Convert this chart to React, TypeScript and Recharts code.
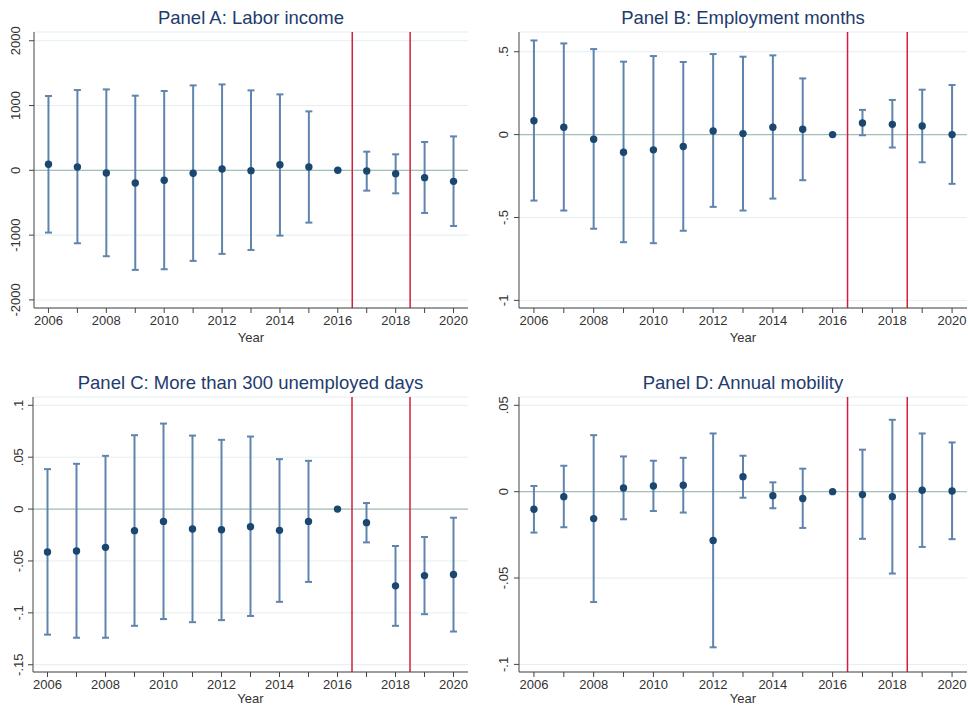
import React from "react";
import {
  ScatterChart,
  Scatter,
  XAxis,
  YAxis,
  CartesianGrid,
  ReferenceLine,
  ErrorBar,
  Label,
} from "recharts";

const years = [2006, 2007, 2008, 2009, 2010, 2011, 2012, 2013, 2014, 2015, 2016, 2017, 2018, 2019, 2020];

// Panel A: labor income
const incomeEst = [93, 51, -41, -195, -154, -46, 21, -5, 87, 51, 0, -10, -51, -113, -170];
const incomeLo = [-961, -1126, -1326, -1537, -1527, -1398, -1290, -1229, -1008, -807, 0, -314, -355, -658, -859];
const incomeHi = [1147, 1239, 1249, 1152, 1224, 1311, 1326, 1234, 1172, 910, 0, 288, 247, 437, 524];
const incomeTicks = [-2000, -1000, 0, 1000, 2000];

// Panel B: employment months
const monthsEst = [0.084, 0.044, -0.028, -0.106, -0.092, -0.072, 0.022, 0.006, 0.044, 0.032, 0, 0.07, 0.062, 0.052, 0];
const monthsLo = [-0.398, -0.458, -0.568, -0.649, -0.655, -0.58, -0.436, -0.458, -0.386, -0.275, 0, -0.004, -0.078, -0.167, -0.297];
const monthsHi = [0.568, 0.55, 0.516, 0.44, 0.474, 0.438, 0.486, 0.47, 0.478, 0.339, 0, 0.149, 0.209, 0.271, 0.299];
const monthsTicks = [-1, -0.5, 0, 0.5];

// Panel C: more than 300 unemployed days
const unempEst = [-0.0413, -0.0404, -0.0369, -0.0208, -0.0119, -0.0192, -0.0199, -0.017, -0.0205, -0.0119, 0, -0.0131, -0.074, -0.0641, -0.0631];
const unempLo = [-0.121, -0.124, -0.124, -0.1125, -0.106, -0.109, -0.107, -0.103, -0.0894, -0.0702, 0, -0.0321, -0.1125, -0.1013, -0.118];
const unempHi = [0.0385, 0.0436, 0.0513, 0.0712, 0.0824, 0.0708, 0.0667, 0.0699, 0.0481, 0.0465, 0, 0.0058, -0.0356, -0.0269, -0.0083];
const unempTicks = [-0.15, -0.1, -0.05, 0, 0.05, 0.1];

// Panel D: annual mobility
const mobEst = [-0.0102, -0.0029, -0.0156, 0.0021, 0.0033, 0.0037, -0.0283, 0.0087, -0.0023, -0.004, 0, -0.0017, -0.0029, 0.0008, 0.0004];
const mobLo = [-0.0237, -0.0206, -0.0639, -0.016, -0.0112, -0.0121, -0.0901, -0.0035, -0.0096, -0.021, 0, -0.0273, -0.0474, -0.032, -0.0275];
const mobHi = [0.0033, 0.015, 0.0327, 0.0204, 0.0179, 0.0196, 0.0337, 0.0208, 0.0054, 0.0133, 0, 0.0243, 0.0416, 0.0337, 0.0285];
const mobTicks = [-0.1, -0.05, 0, 0.05];

const yearTicks = years;
const cutoffs = [2016.5, 2018.5];

const FONT = "'Liberation Sans', Arial, sans-serif";
const NAVY = "#1a476f";
const BAR = "#5f84ad";
const AXIS = "#444";

const stataNum = (v: number) => String(v).replace(/^(-?)0\./, "$1.");

function buildRows(est: number[], lo: number[], hi: number[]) {
  return years.map((y, i) => ({
    year: y,
    est: est[i],
    err: [est[i] - lo[i], hi[i] - est[i]],
  }));
}

type PanelProps = {
  title: string;
  left: number;
  top: number;
  width: number;
  height: number;
  plotTop: number;
  plotLeft: number;
  right: number;
  xAxisH: number;
  yearOffset: number;
  titleY: number;
  labelShift: number;
  domain: [number, number];
  ticks: number[];
  est: number[];
  lo: number[];
  hi: number[];
};

function Panel(p: PanelProps) {
  const rows = buildRows(p.est, p.lo, p.hi);
  const plotCenter = (p.plotLeft + (p.width - p.right)) / 2;

  const YTick = (props: any) => {
    const { x, y, payload } = props;
    return (
      <text
        transform={`translate(${x - p.labelShift},${y}) rotate(-90)`}
        textAnchor="middle"
        dominantBaseline="central"
        fontSize={13}
        fontFamily={FONT}
        fill="#333"
      >
        {stataNum(payload.value)}
      </text>
    );
  };

  return (
    <div style={{ position: "absolute", left: p.left, top: p.top, width: p.width, height: p.height }}>
      <div
        style={{
          position: "absolute",
          left: plotCenter - 200,
          width: 400,
          top: p.titleY - 11,
          lineHeight: "22px",
          textAlign: "center",
          fontFamily: FONT,
          fontSize: 18.5,
          color: "#1e3b6d",
        }}
      >
        {p.title}
      </div>
      <ScatterChart
        width={p.width}
        height={p.height}
        margin={{ top: p.plotTop, right: p.right, left: 0, bottom: 0 }}
      >
        <CartesianGrid horizontal vertical={false} stroke="#e3eef0" strokeWidth={1} />
        <XAxis
          type="number"
          dataKey="year"
          domain={[2005.5, 2020.5]}
          ticks={yearTicks}
          interval={0}
          height={p.xAxisH}
          tickSize={5}
          tickMargin={3}
          stroke={AXIS}
          tick={{ fontSize: 13, fontFamily: FONT, fill: "#333" }}
          tickFormatter={(v: number) => (v % 2 === 0 ? String(v) : "")}
        >
          <Label
            value="Year"
            position="insideBottom"
            offset={p.yearOffset}
            style={{ fontSize: 13, fontFamily: FONT, fill: "#333" }}
          />
        </XAxis>
        <YAxis
          type="number"
          dataKey="est"
          domain={p.domain}
          allowDataOverflow
          ticks={p.ticks}
          interval={0}
          width={p.plotLeft}
          tickSize={5}
          stroke={AXIS}
          tick={YTick}
        />
        <ReferenceLine y={0} stroke="#a3c0b8" strokeWidth={1.2} />
        {cutoffs.map((c) => (
          <ReferenceLine key={c} x={c} stroke="#d21f3c" strokeWidth={1.5} />
        ))}
        <Scatter
          data={rows}
          dataKey="est"
          isAnimationActive={false}
          shape={(s: any) => <circle cx={s.cx} cy={s.cy} r={3.7} fill={NAVY} />}
        >
          <ErrorBar dataKey="err" direction="y" width={3.5} stroke={BAR} strokeWidth={2} />
        </Scatter>
      </ScatterChart>
    </div>
  );
}

export default function App() {
  return (
    <div style={{ position: "absolute", left: 0, top: 0, width: 968, height: 707, background: "#fff" }}>
      <Panel
        title="Panel A: Labor income"
        left={0}
        top={0}
        width={480}
        height={350}
        plotTop={32}
        plotLeft={34}
        right={12}
        xAxisH={42}
        yearOffset={8}
        titleY={18}
        labelShift={12}
        domain={[-2125, 2135]}
        ticks={incomeTicks}
        est={incomeEst}
        lo={incomeLo}
        hi={incomeHi}
      />
      <Panel
        title="Panel B: Employment months"
        left={480}
        top={0}
        width={488}
        height={350}
        plotTop={32}
        plotLeft={39}
        right={1}
        xAxisH={42}
        yearOffset={8}
        titleY={18}
        labelShift={9}
        domain={[-1.046, 0.619]}
        ticks={monthsTicks}
        est={monthsEst}
        lo={monthsLo}
        hi={monthsHi}
      />
      <Panel
        title="Panel C: More than 300 unemployed days"
        left={0}
        top={355}
        width={480}
        height={352}
        plotTop={42}
        plotLeft={33}
        right={12}
        xAxisH={35}
        yearOffset={4}
        titleY={28}
        labelShift={8}
        domain={[-0.157, 0.108]}
        ticks={unempTicks}
        est={unempEst}
        lo={unempLo}
        hi={unempHi}
      />
      <Panel
        title="Panel D: Annual mobility"
        left={480}
        top={355}
        width={488}
        height={352}
        plotTop={42}
        plotLeft={39}
        right={1}
        xAxisH={35}
        yearOffset={4}
        titleY={28}
        labelShift={9}
        domain={[-0.1044, 0.0548]}
        ticks={mobTicks}
        est={mobEst}
        lo={mobLo}
        hi={mobHi}
      />
    </div>
  );
}
